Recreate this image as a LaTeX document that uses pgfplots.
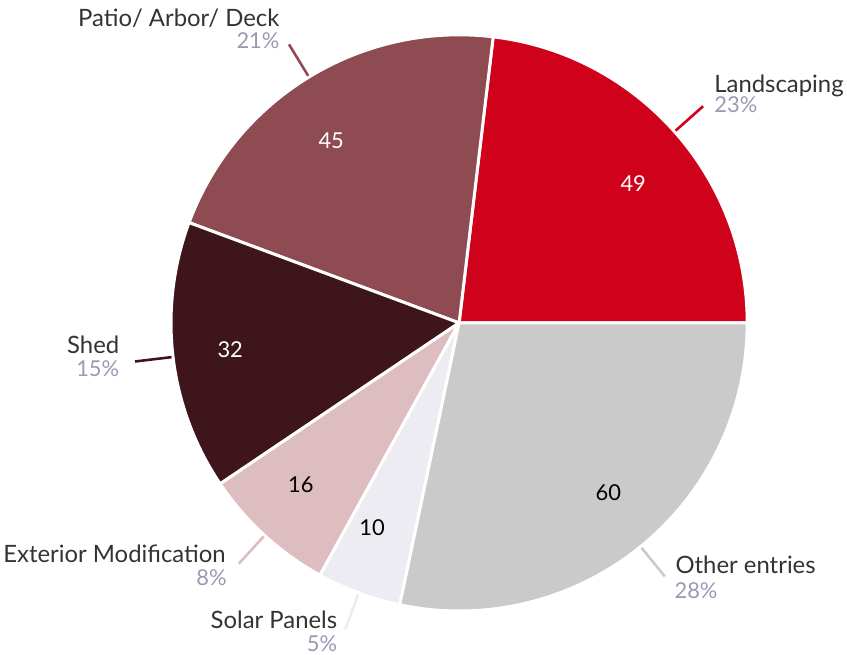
\documentclass[border=0pt]{standalone}
\usepackage{pgfplots}
\pgfplotsset{compat=1.18}
\usepackage{pgfplotstable}
\usepackage{fontspec}
\setmainfont{Lato}
\definecolor{cLand}{RGB}{208,2,27}
\definecolor{cPatio}{RGB}{143,75,82}
\definecolor{cShed}{RGB}{62,21,27}
\definecolor{cExt}{RGB}{222,189,192}
\definecolor{cSolar}{RGB}{236,236,242}
\definecolor{cOther}{RGB}{202,202,202}
\definecolor{nameC}{RGB}{51,51,51}
\definecolor{pctC}{RGB}{153,153,180}

% slices counter-clockwise from 3 o'clock; lx,ly = value-label position
\pgfplotstableread[col sep=comma]{
value,color,textcolor,lx,ly
49,cLand,white,635,474
45,cPatio,white,331.5,517
32,cShed,white,230,307
16,cExt,black,301,170.5
10,cSolar,black,372.5,128
60,cOther,black,610,162.5
}\piedata

\begin{document}
\begin{tikzpicture}
\begin{axis}[
  width=847pt, height=658pt, scale only axis,
  xmin=0, xmax=847, ymin=0, ymax=658,
  hide axis, clip=false,
]
\path (axis cs:0,0) rectangle (axis cs:847,658);
\pgfplotsextra{
  \gdef\pietotal{0}
  \foreach \i in {0,...,5} {
    \pgfplotstablegetelem{\i}{value}\of\piedata
    \pgfmathsetmacro\pietmp{\pietotal+\pgfplotsretval}
    \global\let\pietotal\pietmp
  }
  \gdef\piecum{0}
  \foreach \i in {0,...,5} {
    \pgfplotstablegetelem{\i}{value}\of\piedata \let\pv\pgfplotsretval
    \pgfplotstablegetelem{\i}{color}\of\piedata \let\pcol\pgfplotsretval
    \pgfplotstablegetelem{\i}{textcolor}\of\piedata \let\ptcol\pgfplotsretval
    \pgfplotstablegetelem{\i}{lx}\of\piedata \let\plx\pgfplotsretval
    \pgfplotstablegetelem{\i}{ly}\of\piedata \let\ply\pgfplotsretval
    \pgfmathsetmacro\sa{\piecum/\pietotal*360}
    \pgfmathsetmacro\sb{(\piecum+\pv)/\pietotal*360}
    \pgfmathsetmacro\sm{(\sa+\sb)/2}
    \fill[\pcol, draw=white, line width=3pt, line join=round]
      (axis cs:460,333.5) -- ++(\sa:289.5pt) arc[start angle=\sa, end angle=\sb, radius=289.5pt] -- cycle;
    \draw[\pcol, line width=2.6pt] (axis cs:460,333.5) ++(\sm:291pt) -- ++(\sm:37pt);
    \node[text=\ptcol, font=\fontsize{22}{25}\selectfont, inner sep=0pt] at (axis cs:\plx,\ply) {\pv};
    \pgfmathsetmacro\pietmp{\piecum+\pv}
    \global\let\piecum\pietmp
  }
}
% outer labels
\node[anchor=base west, text=nameC, font=\fontsize{24}{28}\selectfont] at (axis cs:713,565.5) {Landscaping};
\node[anchor=base west, text=pctC, font=\fontsize{22}{26}\selectfont] at (axis cs:713,545) {23\%};
\node[anchor=base east, text=nameC, font=\fontsize{24}{28}\selectfont] at (axis cs:283,631) {Patio/ Arbor/ Deck};
\node[anchor=base east, text=pctC, font=\fontsize{22}{26}\selectfont] at (axis cs:283,609) {21\%};
\node[anchor=base east, text=nameC, font=\fontsize{24}{28}\selectfont] at (axis cs:122,303) {Shed};
\node[anchor=base east, text=pctC, font=\fontsize{22}{26}\selectfont] at (axis cs:122,280) {15\%};
\node[anchor=base east, text=nameC, font=\fontsize{24}{28}\selectfont] at (axis cs:229,93) {Exterior Modification};
\node[anchor=base east, text=pctC, font=\fontsize{22}{26}\selectfont] at (axis cs:230,70) {8\%};
\node[anchor=base east, text=nameC, font=\fontsize{24}{28}\selectfont] at (axis cs:341,26.5) {Solar Panels};
\node[anchor=base east, text=pctC, font=\fontsize{22}{26}\selectfont] at (axis cs:341,3.5) {5\%};
\node[anchor=base west, text=nameC, font=\fontsize{24}{28}\selectfont] at (axis cs:674,81.5) {Other entries};
\node[anchor=base west, text=pctC, font=\fontsize{22}{26}\selectfont] at (axis cs:673,57) {28\%};
\end{axis}
\end{tikzpicture}
\end{document}
